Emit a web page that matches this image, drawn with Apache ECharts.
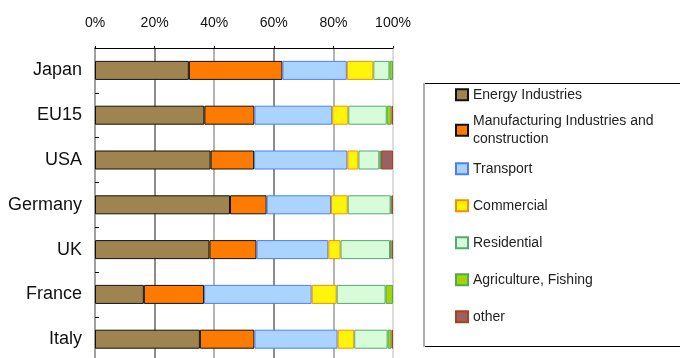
<!DOCTYPE html>
<html>
<head>
<meta charset="utf-8">
<style>
  html, body { margin: 0; padding: 0; background: #ffffff; }
  #chart { width: 680px; height: 358px; }
</style>
<script src="https://cdn.jsdelivr.net/npm/echarts@6/dist/echarts.min.js"></script>
</head>
<body>
<div id="chart"></div>
<script>
// CO2 emissions share by sector (%)
const categories = ['Japan', 'EU15', 'USA', 'Germany', 'UK', 'France', 'Italy'];
const energyIndustries = [31.5, 36.7, 38.8, 45.3, 38.4, 16.4, 35.2];
const manufacturing    = [31.4, 16.8, 14.6, 12.3, 15.8, 20.2, 18.3];
const transport        = [21.6, 26.1, 31.3, 21.6, 24.1, 36.1, 27.9];
const commercial       = [8.9, 5.4, 3.7, 5.6, 4.1, 8.4, 5.6];
const residential      = [5.4, 12.9, 7.0, 14.4, 16.6, 16.4, 11.2];
const agriculture      = [1.2, 1.6, 0.6, 0.3, 0.5, 2.5, 1.3];
const other            = [0, 0.5, 4.0, 0.5, 0.5, 0, 0.5];
const percentTicks = [0, 20, 40, 60, 80, 100];

const sectors = [
  { name: 'Energy Industries', data: energyIndustries, fill: '#a0844f', edge: '#111111' },
  { name: 'Manufacturing Industries and\nconstruction', data: manufacturing, fill: '#ff7b00', edge: '#111111' },
  { name: 'Transport', data: transport, fill: '#aad3ff', edge: '#4c7ef8' },
  { name: 'Commercial', data: commercial, fill: '#fff50a', edge: '#ff8a00' },
  { name: 'Residential', data: residential, fill: '#d7fcd7', edge: '#52aa74' },
  { name: 'Agriculture, Fishing', data: agriculture, fill: '#a8d200', edge: '#4caa60' },
  { name: 'other', data: other, fill: '#9c6062', edge: '#a8441c' }
];

const FONT = "'Liberation Sans', Arial, sans-serif";

const series = sectors.map(s => ({
  name: s.name,
  type: 'bar',
  stack: 'share',
  barWidth: 19,
  data: s.data.map(v => (v > 0 ? v : '-')),
  itemStyle: { color: s.fill, borderColor: s.edge, borderWidth: 1 },
  emphasis: { disabled: true },
  animation: false
}));

// one legend block per sector, stacked down the key box
const legendTop0 = 93.3, legendStep = 37;
const legends = sectors.map((s, i) => {
  const centre = legendTop0 + i * legendStep;
  const twoLine = s.name.indexOf('\n') >= 0;
  return {
    data: [{ name: s.name }],
    orient: 'vertical',
    left: 455,
    top: twoLine ? centre - 5.5 - 21.5 : centre - 5.5,
    padding: 0,
    itemWidth: 12,
    itemHeight: 11,
    icon: 'rect',
    selectedMode: false,
    textStyle: twoLine
      ? { fontFamily: FONT, fontSize: 14, color: '#222', lineHeight: 18, padding: [18, 0, 0, 0] }
      : { fontFamily: FONT, fontSize: 14, color: '#222', lineHeight: 11 }
  };
});

const option = {
  backgroundColor: '#ffffff',
  animation: false,
  grid: {
    left: 95, top: 48, width: 298, height: 313.6,
    containLabel: false, outerBoundsMode: 'none'
  },
  xAxis: {
    type: 'value',
    position: 'top',
    min: percentTicks[0],
    max: percentTicks[percentTicks.length - 1],
    interval: 20,
    axisLine: { show: true, lineStyle: { color: '#000', width: 1 } },
    axisTick: { show: true, length: 2, lineStyle: { color: '#000' } },
    axisLabel: {
      formatter: '{value}%',
      margin: 18,
      color: '#111',
      fontFamily: FONT,
      fontSize: 14
    },
    splitLine: {
      show: true,
      lineStyle: { width: 2, color: ['#a0a0a0', '#8c8c8c', '#b4b4b4', '#8c8c8c', '#b4b4b4', '#dcdcdc'] }
    }
  },
  yAxis: {
    type: 'category',
    inverse: true,
    data: categories,
    axisLine: { show: true, lineStyle: { color: '#a0a0a0', width: 2 } },
    axisTick: { show: true, inside: true, length: 4, lineStyle: { color: '#000' } },
    axisLabel: {
      margin: 13,
      color: '#111',
      fontFamily: FONT,
      fontSize: 18,
      padding: [4, 0, 0, 0]
    },
    splitLine: { show: false }
  },
  legend: legends,
  graphic: [
    { type: 'line', shape: { x1: 424, y1: 83.5, x2: 680, y2: 83.5 }, style: { stroke: '#000', lineWidth: 1 }, silent: true },
    { type: 'line', shape: { x1: 424, y1: 346.5, x2: 680, y2: 346.5 }, style: { stroke: '#000', lineWidth: 1 }, silent: true },
    { type: 'line', shape: { x1: 424, y1: 83, x2: 424, y2: 347 }, style: { stroke: '#b0b0b0', lineWidth: 2 }, silent: true }
  ],
  series: series
};

const chart = echarts.init(document.getElementById('chart'), null, { renderer: 'canvas' });
chart.setOption(option);
</script>
</body>
</html>
